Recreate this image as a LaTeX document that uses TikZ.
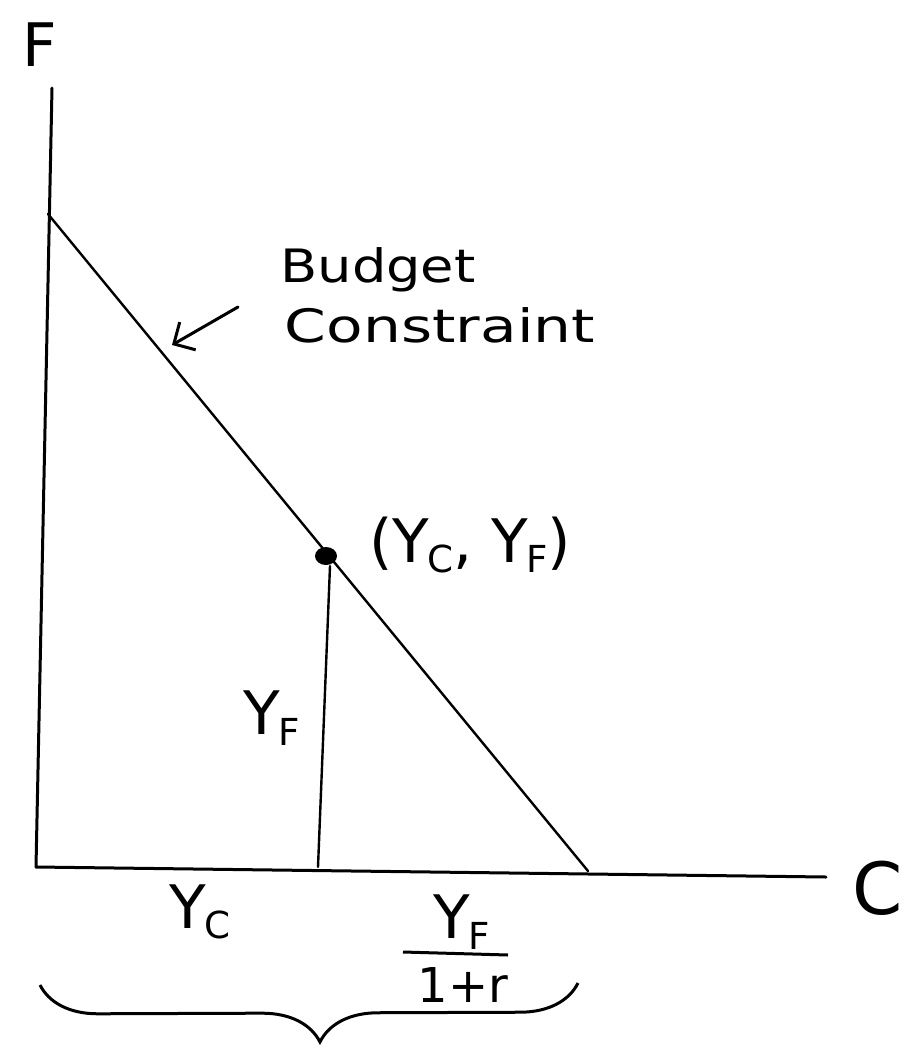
\documentclass[tikz,border=0pt]{standalone}
\usepackage{fontspec}
\setmainfont{DejaVu Sans}
\usepackage{graphicx}
\usetikzlibrary{arrows.meta,decorations.pathreplacing}
\newcommand{\Ysb}[1]{Y\kern-2pt\raisebox{-0.32ex}{\scalebox{0.62}{#1}}}
\begin{document}
\begin{tikzpicture}[x=1pt,y=-1pt,
  axis/.style={line width=3pt,line cap=round},
  thin line/.style={line width=2.4pt,line cap=round},
  lbl/.style={inner sep=0pt,font=\fontsize{60}{60}\selectfont},
  note/.style={inner sep=0pt,font=\fontsize{46}{50}\selectfont,align=left}]
\useasboundingbox (0,0) rectangle (904,1052);
% axes
\coordinate (O) at (36,867);
\coordinate (Ftop) at (52,88);
\coordinate (Cend) at (826,877);
\draw[axis] (O) -- (Ftop);
\draw[axis] (O) -- (Cend);
% budget line
\coordinate (B1) at (48,214);
\coordinate (B2) at (588,871);
\draw[thin line] (B1) -- (B2);
% point
\coordinate (P) at (326,556);
\coordinate (Foot) at (318,867);
\fill (P) ellipse (11pt and 9pt);
\draw[thin line] (330,566) -- (Foot);
% axis labels
\node[lbl] (Flab) at (40,45) {F};
\node[lbl,font=\fontsize{72}{72}\selectfont] (Clab) at (878,888) {C};
% budget constraint
\node[note] (bud) at (378,270) {\scalebox{1.18}[1]{Budget}};
\node[note] (con) at (440,325) {\scalebox{1.3}[1]{Constraint}};
\coordinate (arrS) at (238,307);
\coordinate (arrE) at (172,345);
\draw[line width=3pt,line cap=round,-{Straight Barb[length=16pt,width=32pt,line width=3pt]}] (arrS) -- (arrE);
% point label
\node[lbl] (plab) at (470,545) {(\Ysb{C}, \Ysb{F})};
% Y_F vertical label
\node[lbl] (yf) at (272,718) {\Ysb{F}};
% Y_C horizontal label
\node[lbl] (yc) at (200,912) {\Ysb{C}};
% fraction
\node[lbl] (num) at (462,922) {\Ysb{F}};
\node[lbl,font=\fontsize{48}{48}\selectfont] (den) at (463,985) {1+r};
\draw[line width=3pt] (403,952) -- (508,955);
% brace
\coordinate (brL) at (40,985);
\coordinate (brR) at (578,983);
\draw[line width=3pt,decorate,decoration={brace,amplitude=58pt,aspect=0.52,mirror}] (brL) -- (brR);
\end{tikzpicture}
\end{document}
